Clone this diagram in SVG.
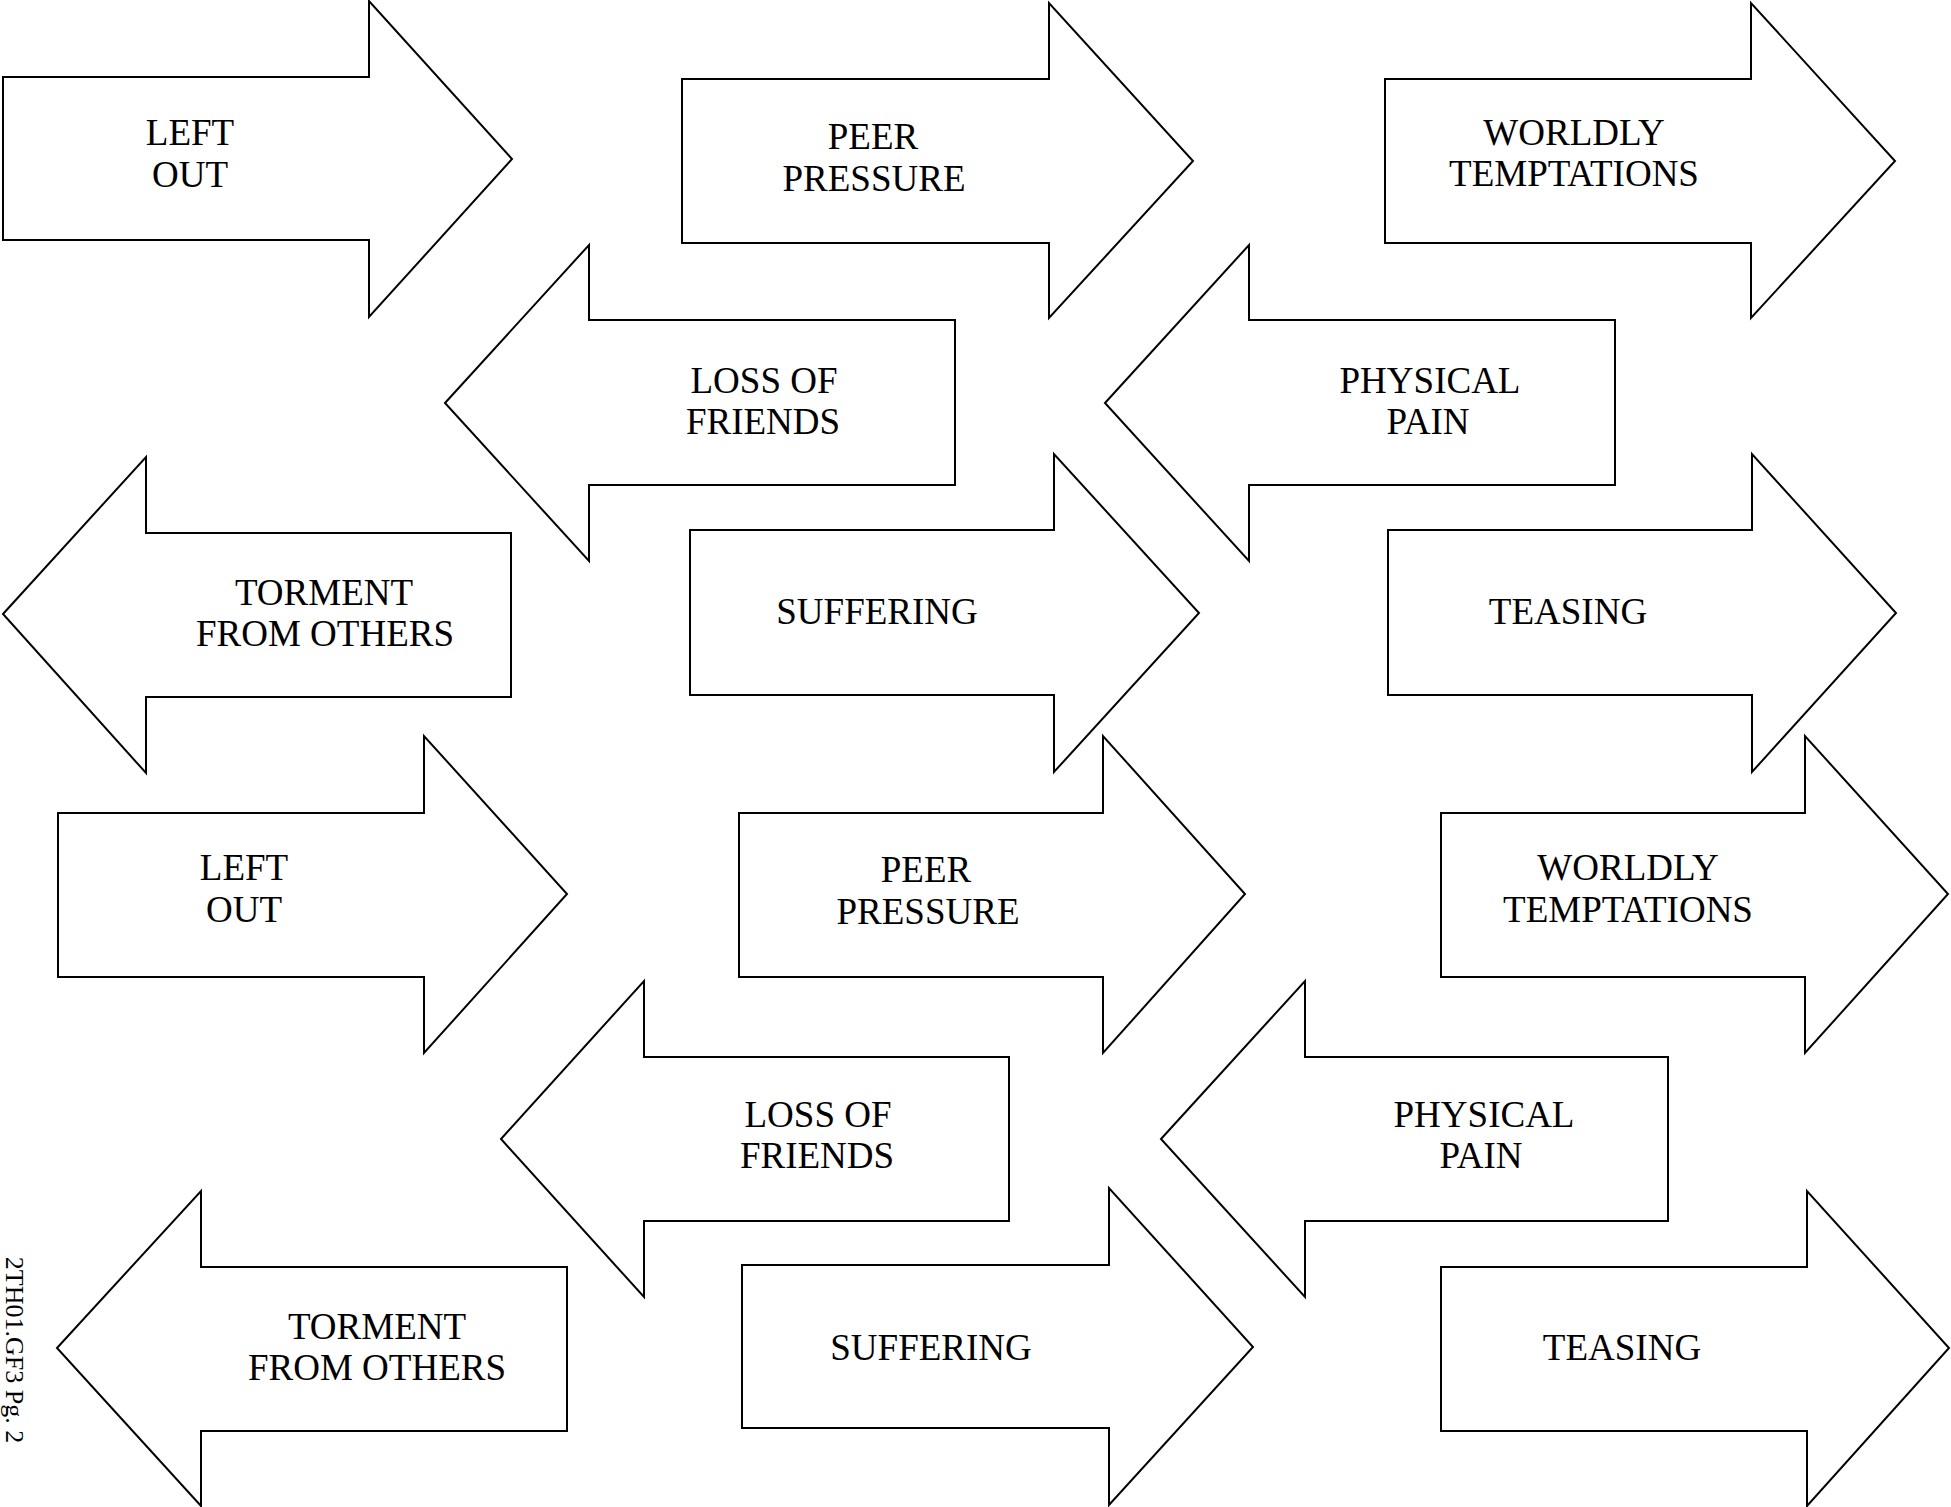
<svg xmlns="http://www.w3.org/2000/svg" width="1951" height="1507" viewBox="0 0 1951 1507">
<style>
.arrow{fill:#fff;stroke:#000;stroke-width:2;stroke-linejoin:miter}
.lbl{font-family:"Liberation Serif","Times New Roman",serif;font-size:37px;text-anchor:middle;fill:#000}
.side{font-family:"Liberation Serif","Times New Roman",serif;font-size:26px;text-anchor:middle;fill:#000}
</style>
<rect x="0" y="0" width="1951" height="1507" fill="#fff"/>
<g id="connectors"/>
<g id="n-leftout-1"><polygon class="arrow" points="3,77 369,77 369,1 512,159 369,317 369,240 3,240"/><text class="lbl" x="190" y="145">LEFT</text><text class="lbl" x="190" y="187">OUT</text></g>
<g id="n-peer-1"><polygon class="arrow" points="682,79 1049,79 1049,3 1193,161 1049,318 1049,243 682,243"/><text class="lbl" x="873" y="149">PEER</text><text class="lbl" x="874" y="191">PRESSURE</text></g>
<g id="n-worldly-1"><polygon class="arrow" points="1385,79 1751,79 1751,3 1895,161 1751,318 1751,243 1385,243"/><text class="lbl" x="1574" y="145">WORLDLY</text><text class="lbl" x="1574" y="186">TEMPTATIONS</text></g>
<g id="n-loss-1"><polygon class="arrow" points="445,403 589,245 589,320 955,320 955,485 589,485 589,561"/><text class="lbl" x="764" y="393">LOSS OF</text><text class="lbl" x="763" y="434">FRIENDS</text></g>
<g id="n-physical-1"><polygon class="arrow" points="1105,403 1249,245 1249,320 1615,320 1615,485 1249,485 1249,561"/><text class="lbl" x="1430" y="393">PHYSICAL</text><text class="lbl" x="1428" y="434">PAIN</text></g>
<g id="n-torment-1"><polygon class="arrow" points="3,614 146,457 146,533 511,533 511,697 146,697 146,773"/><text class="lbl" x="324" y="605">TORMENT</text><text class="lbl" x="325" y="646">FROM OTHERS</text></g>
<g id="n-suffering-1"><polygon class="arrow" points="690,530 1054,530 1054,454 1199,613 1054,772 1054,695 690,695"/><text class="lbl" x="877" y="624">SUFFERING</text></g>
<g id="n-teasing-1"><polygon class="arrow" points="1388,530 1752,530 1752,454 1896,613 1752,772 1752,695 1388,695"/><text class="lbl" x="1568" y="624">TEASING</text></g>
<g id="n-leftout-2"><polygon class="arrow" points="58,813 424,813 424,736 567,894 424,1053 424,977 58,977"/><text class="lbl" x="244" y="880">LEFT</text><text class="lbl" x="244" y="922">OUT</text></g>
<g id="n-peer-2"><polygon class="arrow" points="739,813 1103,813 1103,736 1245,894 1103,1053 1103,977 739,977"/><text class="lbl" x="926" y="882">PEER</text><text class="lbl" x="928" y="924">PRESSURE</text></g>
<g id="n-worldly-2"><polygon class="arrow" points="1441,813 1805,813 1805,736 1948,894 1805,1053 1805,977 1441,977"/><text class="lbl" x="1628" y="880">WORLDLY</text><text class="lbl" x="1628" y="922">TEMPTATIONS</text></g>
<g id="n-loss-2"><polygon class="arrow" points="501,1139 644,981 644,1057 1009,1057 1009,1221 644,1221 644,1297"/><text class="lbl" x="818" y="1127">LOSS OF</text><text class="lbl" x="817" y="1168">FRIENDS</text></g>
<g id="n-physical-2"><polygon class="arrow" points="1161,1139 1305,981 1305,1057 1668,1057 1668,1221 1305,1221 1305,1297"/><text class="lbl" x="1484" y="1127">PHYSICAL</text><text class="lbl" x="1481" y="1168">PAIN</text></g>
<g id="n-torment-2"><polygon class="arrow" points="57,1348 201,1191 201,1267 567,1267 567,1431 201,1431 201,1506"/><text class="lbl" x="377" y="1339">TORMENT</text><text class="lbl" x="377" y="1380">FROM OTHERS</text></g>
<g id="n-suffering-2"><polygon class="arrow" points="742,1265 1109,1265 1109,1188 1253,1347 1109,1505 1109,1428 742,1428"/><text class="lbl" x="931" y="1360">SUFFERING</text></g>
<g id="n-teasing-2"><polygon class="arrow" points="1441,1267 1807,1267 1807,1191 1949,1348 1807,1506 1807,1431 1441,1431"/><text class="lbl" x="1622" y="1360">TEASING</text></g>
<g id="page-label"><text class="side" transform="translate(6,1350) rotate(90)">2TH01.GF3 Pg. 2</text></g>
</svg>
